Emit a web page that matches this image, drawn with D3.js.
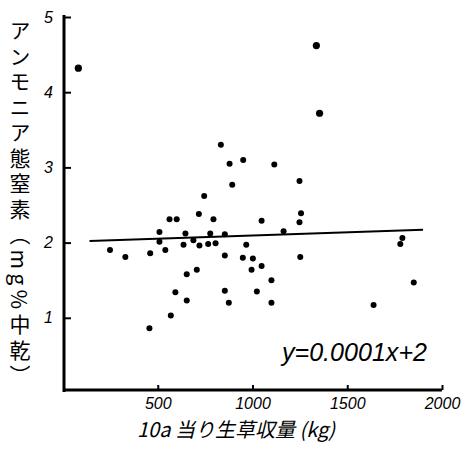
<!DOCTYPE html>
<html lang="ja">
<head>
<meta charset="utf-8">
<script src="https://cdn.jsdelivr.net/npm/d3@7"></script>
<style>
  body { margin: 0; background: #fff; }
  .tick text { font-family: "Liberation Sans Narrow", "Liberation Sans", sans-serif; font-stretch: condensed; font-style: italic; font-size: 16px; }
</style>
</head>
<body>
<svg id="chart" width="467" height="451"></svg>
<script>
// 10a当り生草収量 (kg)
var yieldKg = [81, 1337, 1354, 833, 879, 951, 1115, 1248, 893, 745,
  562, 600, 717, 794, 1048, 1256, 1248, 509, 646, 777,
  854, 1164, 509, 688, 636, 720, 766, 805, 967, 1791,
  1780, 248, 329, 460, 540, 854, 949, 1002, 1252, 706,
  653, 995, 1048, 1100, 1851, 593, 854, 1023, 653, 875,
  1100, 1639, 569, 456];
// アンモニア態窒素
var ammoniaN = [4.32, 4.62, 3.72, 3.30, 3.05, 3.10, 3.04, 2.82, 2.77, 2.62,
  2.31, 2.31, 2.38, 2.31, 2.29, 2.39, 2.27, 2.14, 2.12, 2.12,
  2.11, 2.15, 2.01, 2.03, 1.97, 1.96, 1.98, 1.99, 1.97, 2.06,
  1.98, 1.90, 1.81, 1.86, 1.90, 1.83, 1.80, 1.79, 1.81, 1.64,
  1.58, 1.64, 1.69, 1.50, 1.47, 1.34, 1.36, 1.35, 1.23, 1.20,
  1.20, 1.17, 1.03, 0.86];
// regression line ends, as drawn
var fitX = [140, 1900];
var fitY = [2.02, 2.17];
var xTicks = [500, 1000, 1500, 2000];
var yTicks = [1, 2, 3, 4, 5];

var svg = d3.select("#chart");
var x = d3.scaleLinear().domain([0, 2000]).range([63, 442]);
var y = d3.scaleLinear().domain([0, 5]).range([393, 17]);

// y axis (ticks inside)
var yAxis = svg.append("g")
    .attr("transform", "translate(64,0)")
    .call(d3.axisLeft(y).tickValues(yTicks).tickFormat(d3.format("d"))
      .tickSizeInner(-7).tickSizeOuter(0).tickPadding(11));
yAxis.select(".domain").remove();
yAxis.selectAll(".tick line").attr("stroke-width", 2);

// x axis
var xAxis = svg.append("g")
    .attr("transform", "translate(0,390)")
    .call(d3.axisBottom(x).tickValues(xTicks).tickFormat(d3.format("d"))
      .tickSizeInner(-5).tickSizeOuter(0).tickPadding(8));
xAxis.select(".domain").remove();
xAxis.selectAll(".tick line").attr("stroke-width", 2);

svg.append("line").attr("x1", 64).attr("x2", 64).attr("y1", 15).attr("y2", 392)
  .attr("stroke", "#000").attr("stroke-width", 3);
svg.append("line").attr("x1", 63).attr("x2", x(2000)).attr("y1", 390).attr("y2", 390)
  .attr("stroke", "#000").attr("stroke-width", 3);

// fit line
svg.append("line")
  .attr("x1", x(fitX[0])).attr("y1", y(fitY[0]))
  .attr("x2", x(fitX[1])).attr("y2", y(fitY[1]))
  .attr("stroke", "#000").attr("stroke-width", 2);

// points
svg.append("g").selectAll("circle")
  .data(yieldKg)
  .join("circle")
    .attr("cx", function(d) { return x(d); })
    .attr("cy", function(d, i) { return y(ammoniaN[i]); })
    .attr("r", function(d, i) { return ammoniaN[i] > 3.5 ? 3.6 : 3; })
    .attr("fill", "#000");

// equation
svg.append("text")
  .attr("x", 282).attr("y", 361)
  .style("font-family", "'Liberation Sans Narrow', 'Liberation Sans', sans-serif")
  .style("font-stretch", "condensed")
  .style("font-style", "italic").style("font-size", "25px")
  .attr("textLength", 145).attr("lengthAdjust", "spacingAndGlyphs")
  .text("y=0.0001x+2");

// x title
svg.append("text")
  .attr("x", 236).attr("y", 437).attr("text-anchor", "middle")
  .style("font-family", "'Noto Sans CJK JP', sans-serif")
  .style("font-size", "20px").style("font-style", "italic")
  .text("10a 当り生草収量 (kg)");

// y title (vertical)
svg.append("text")
  .attr("x", 20).attr("y", 20)
  .style("writing-mode", "vertical-rl")
  .style("font-family", "'Noto Sans CJK JP', sans-serif")
  .style("font-size", "21px").style("letter-spacing", "4.5px")
  .text("アンモニア態窒素（mg%中乾）");
</script>
</body>
</html>
